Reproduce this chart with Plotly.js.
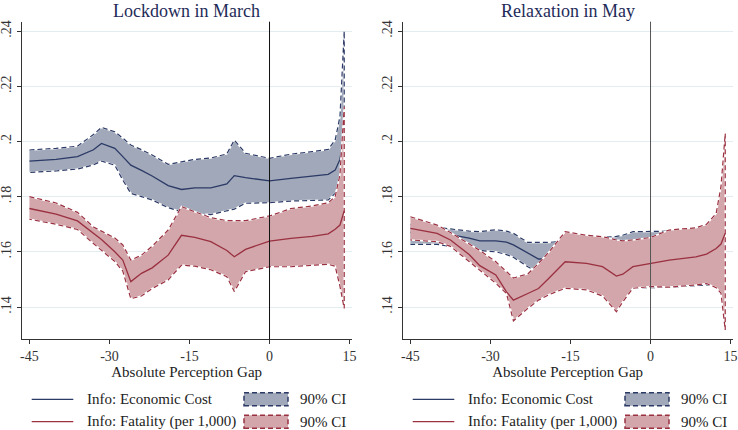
<!DOCTYPE html>
<html>
<head>
<meta charset="utf-8">
<script src="https://cdn.plot.ly/plotly-3.0.1.min.js"></script>
<style>
  body { margin: 0; background: #fff; }
  #plot1 { width: 738px; height: 430px; }
</style>
</head>
<body>
<div id="plot1"></div>
<script>
/////////////////////////////////////////////// data ///////////////////////////////////////////////////////
// Lockdown in March
const marchX = [ -45, -40, -36, -33, -31.5, -29, -27.5, -26, -24, -22, -19, -16.5, -14, -11, -8, -6.6, -4.5, 0, 4, 8, 11, 12.3, 13.2, 14 ];
const marchCost   = [ .1929, .1935, .1945, .1970, .1993, .1975, .1945, .1914, .1895, .1875, .1840, .1826, .1832, .1832, .1846, .1876, .1869, .1857, .1866, .1875, .1881, .1896, .1935, .2035 ];
const marchCostHi = [ .1969, .1975, .1983, .2025, .2051, .2035, .2012, .1987, .1970, .1951, .1917, .1927, .1935, .1940, .1955, .2005, .1957, .1939, .1954, .1963, .1971, .2005, .2090, .2400 ];
const marchCostLo = [ .1888, .1893, .1900, .1915, .1929, .1914, .1860, .1812, .1800, .1788, .1760, .1745, .1738, .1735, .1748, .1755, .1776, .1778, .1784, .1786, .1788, .1812, .1850, .1920 ];
const marchFat    = [ .1757, .1737, .1712, .1668, .1645, .1600, .1570, .1492, .1522, .1542, .1588, .1660, .1652, .1637, .1605, .1582, .1609, .1639, .1649, .1656, .1665, .1682, .1697, .1749 ];
const marchFatHi  = [ .1800, .1777, .1743, .1690, .1675, .1650, .1625, .1570, .1588, .1620, .1679, .1764, .1745, .1724, .1713, .1713, .1713, .1730, .1757, .1766, .1778, .1800, .1880, .2126 ];
const marchFatLo  = [ .1718, .1700, .1681, .1630, .1605, .1565, .1530, .1430, .1440, .1467, .1498, .1552, .1548, .1535, .1510, .1456, .1528, .1546, .1546, .1550, .1555, .1548, .1475, .1395 ];

// Relaxation in May
const mayX = [ -45, -40, -37.5, -34, -32, -29, -27, -25.7, -23, -21, -19, -16, -12, -9, -6.4, -5.2, -3.3, 0, 3.5, 8.5, 10.5, 12.3, 13.2, 14 ];
const mayCost   = [ .1670, .1665, .1662, .1650, .1640, .1640, .1635, .1625, .1595, .1574, .1574, .1570, .1566, .1562, .1556, .1558, .1565, .1570, .1575, .1580, .1585, .1590, .1600, .1620 ];
const mayCostHi = [ .1700, .1690, .1683, .1675, .1673, .1680, .1675, .1667, .1634, .1634, .1634, .1640, .1648, .1652, .1656, .1660, .1673, .1675, .1675, .1682, .1688, .1698, .1710, .1740 ];
const mayCostLo = [ .1627, .1627, .1620, .1610, .1605, .1600, .1590, .1580, .1546, .1525, .1520, .1505, .1490, .1480, .1462, .1462, .1470, .1470, .1472, .1477, .1480, .1480, .1490, .1500 ];
const mayFat    = [ .1685, .1667, .1643, .1590, .1550, .1516, .1455, .1425, .1449, .1467, .1505, .1564, .1558, .1546, .1512, .1519, .1546, .1558, .1570, .1582, .1592, .1612, .1628, .1667 ];
const mayFatHi  = [ .1727, .1697, .1670, .1630, .1605, .1564, .1530, .1505, .1520, .1558, .1600, .1673, .1660, .1655, .1643, .1640, .1643, .1652, .1679, .1687, .1700, .1739, .1836, .2029 ];
const mayFatLo  = [ .1643, .1637, .1620, .1565, .1535, .1486, .1449, .1350, .1395, .1425, .1445, .1468, .1462, .1440, .1383, .1419, .1468, .1474, .1472, .1480, .1485, .1470, .1450, .1317 ];

const xTicks = [ -45, -30, -15, 0, 15 ];
const yTicks = [ .14, .16, .18, .2, .22, .24 ];
const yTickText = [ '.14', '.16', '.18', '.2', '.22', '.24' ];
const panelTitles = [ 'Lockdown in March', 'Relaxation in May' ];
const legendLabels = [ 'Info: Economic Cost', 'Info: Fatality (per 1,000)', '90% CI', '90% CI' ];
const cutoff = 0;

/////////////////////////////////////////////// styles ///////////////////////////////////////////////////////
const serif = "'Liberation Serif', 'Times New Roman', serif";
const navy = '#2c3a66';
const navyFill = '#a0a8b9';
const wine = '#9a3040';
const wineFill = '#d2a6aa';
const dashCI = '5px,3px';

/////////////////////////////////////////////// function ///////////////////////////////////////////////////////
function bandTraces(x, lo, hi, lineColor, fillColor, xa) {
  const polyX = x.concat(x.slice().reverse());
  const polyY = hi.concat(lo.slice().reverse());
  // fill with a white edge, then the dashed edge on top of it
  const fillTrace = {
    x: polyX, y: polyY, xaxis: xa,
    type: 'scatter', mode: 'lines', fill: 'toself', fillcolor: fillColor,
    line: { color: '#ffffff', width: 1.6 },
    showlegend: false, hoverinfo: 'skip',
  };
  const edgeTrace = {
    x: polyX, y: polyY, xaxis: xa,
    type: 'scatter', mode: 'lines',
    line: { color: lineColor, width: 1.2, dash: dashCI },
    showlegend: false, hoverinfo: 'skip',
  };
  return [ fillTrace, edgeTrace ];
}

function meanTrace(x, y, color, xa) {
  return {
    x: x, y: y, xaxis: xa,
    type: 'scatter', mode: 'lines',
    line: { color: color, width: 1.3 },
    showlegend: false, hoverinfo: 'skip',
  };
}

function panel(x, cost, costLo, costHi, fat, fatLo, fatHi, xa) {
  let out = [];
  out = out.concat(bandTraces(x, costLo, costHi, navy, navyFill, xa));
  out.push(meanTrace(x, cost, navy, xa));
  out = out.concat(bandTraces(x, fatLo, fatHi, wine, wineFill, xa));
  out.push(meanTrace(x, fat, wine, xa));
  out.forEach(tr => { tr.yaxis = (xa == 'x') ? 'y' : 'y2'; });
  return out;
}

function xAxisConf(domain, anchor) {
  return {
    domain: domain,
    anchor: anchor,
    range: [ -46.45, 15.4 ],
    tickvals: xTicks,
    ticktext: xTicks.map(v => String(v)),
    ticks: 'outside', ticklen: 4, tickcolor: '#333', tickwidth: 1,
    showline: true, linecolor: '#333', linewidth: 1,
    showgrid: false, zeroline: false,
    tickfont: { family: serif, size: 14, color: '#333' },
    title: { text: 'Absolute Perception Gap', font: { family: serif, size: 15, color: '#222' }, standoff: 2 },
    fixedrange: true,
  };
}

function yAxisConf(anchor) {
  return {
    domain: [ 90.7 / 430, 408.3 / 430 ],
    anchor: anchor,
    range: [ .1283, .2434 ],
    tickvals: yTicks, ticktext: yTickText, tickangle: -90,
    ticks: 'outside', ticklen: 4, tickcolor: '#333',
    showline: true, linecolor: '#333', linewidth: 1,
    showgrid: true, gridcolor: '#e3ecf1', gridwidth: 1, zeroline: false,
    tickfont: { family: serif, size: 14, color: '#333' },
    fixedrange: true,
  };
}

// legend drawn by hand: two rows of line samples and two rows of CI boxes
function legendItems(offsetPx) {
  const W = 738, H = 430;
  const rowsY = [ 399.3, 421.7 ];
  const colors = [ [navy, navyFill], [wine, wineFill] ];
  let shapes = [];
  let notes = [];
  for (let i = 0; i < 2; i++) {
    const yp = 1 - rowsY[i] / H;
    shapes.push({
      type: 'line', xref: 'paper', yref: 'paper',
      x0: (31.7 + offsetPx) / W, x1: (73.3 + offsetPx) / W, y0: yp, y1: yp,
      line: { color: colors[i][0], width: 1.3 },
    });
    shapes.push({
      type: 'rect', xref: 'paper', yref: 'paper',
      x0: (244 + offsetPx) / W, x1: (288 + offsetPx) / W, y0: yp - 6.5 / H, y1: yp + 6.5 / H,
      fillcolor: colors[i][1],
      line: { color: colors[i][0], width: 1.5, dash: dashCI },
    });
    notes.push({
      xref: 'paper', yref: 'paper', x: (85 + offsetPx) / W, y: yp,
      xanchor: 'left', yanchor: 'middle', showarrow: false,
      text: legendLabels[i], font: { family: serif, size: 15, color: '#222' },
    });
    notes.push({
      xref: 'paper', yref: 'paper', x: (298 + offsetPx) / W, y: yp,
      xanchor: 'left', yanchor: 'middle', showarrow: false,
      text: legendLabels[i + 2], font: { family: serif, size: 15, color: '#222' },
    });
  }
  return { shapes: shapes, notes: notes };
}

/////////////////////////////////////////////// plot ///////////////////////////////////////////////////////
const dataTemp = panel(marchX, marchCost, marchCostLo, marchCostHi, marchFat, marchFatLo, marchFatHi, 'x')
  .concat(panel(mayX, mayCost, mayCostLo, mayCostHi, mayFat, mayFatLo, mayFatHi, 'x2'));

const legL = legendItems(0);
const legR = legendItems(381);

const titleNotes = panelTitles.map((t, i) => ({
  xref: (i == 0 ? 'x' : 'x2') + ' domain', yref: 'paper', x: 0.5, y: 1 - 11 / 430,
  xanchor: 'center', yanchor: 'middle', showarrow: false,
  text: t, font: { family: serif, size: 18, color: '#1e2b58' },
}));

const layoutPlot = {
  width: 738,
  height: 430,
  margin: { l: 0, r: 0, t: 0, b: 0 },
  paper_bgcolor: '#ffffff',
  plot_bgcolor: '#ffffff',
  showlegend: false,
  xaxis: xAxisConf([ 21.7 / 738, 351.7 / 738 ], 'y'),
  xaxis2: xAxisConf([ 402.7 / 738, 732.7 / 738 ], 'y2'),
  yaxis: yAxisConf('x'),
  yaxis2: yAxisConf('x2'),
  shapes: [
    { type: 'line', xref: 'x', yref: 'y domain', x0: cutoff, x1: cutoff, y0: 0, y1: 1, layer: 'above', line: { color: '#111', width: 1 } },
    { type: 'line', xref: 'x2', yref: 'y2 domain', x0: cutoff, x1: cutoff, y0: 0, y1: 1, layer: 'above', line: { color: '#555', width: 1 } },
  ].concat(legL.shapes, legR.shapes),
  annotations: titleNotes.concat(legL.notes, legR.notes),
};

Plotly.newPlot('plot1', dataTemp, layoutPlot, { displayModeBar: false, staticPlot: true });
</script>
</body>
</html>
